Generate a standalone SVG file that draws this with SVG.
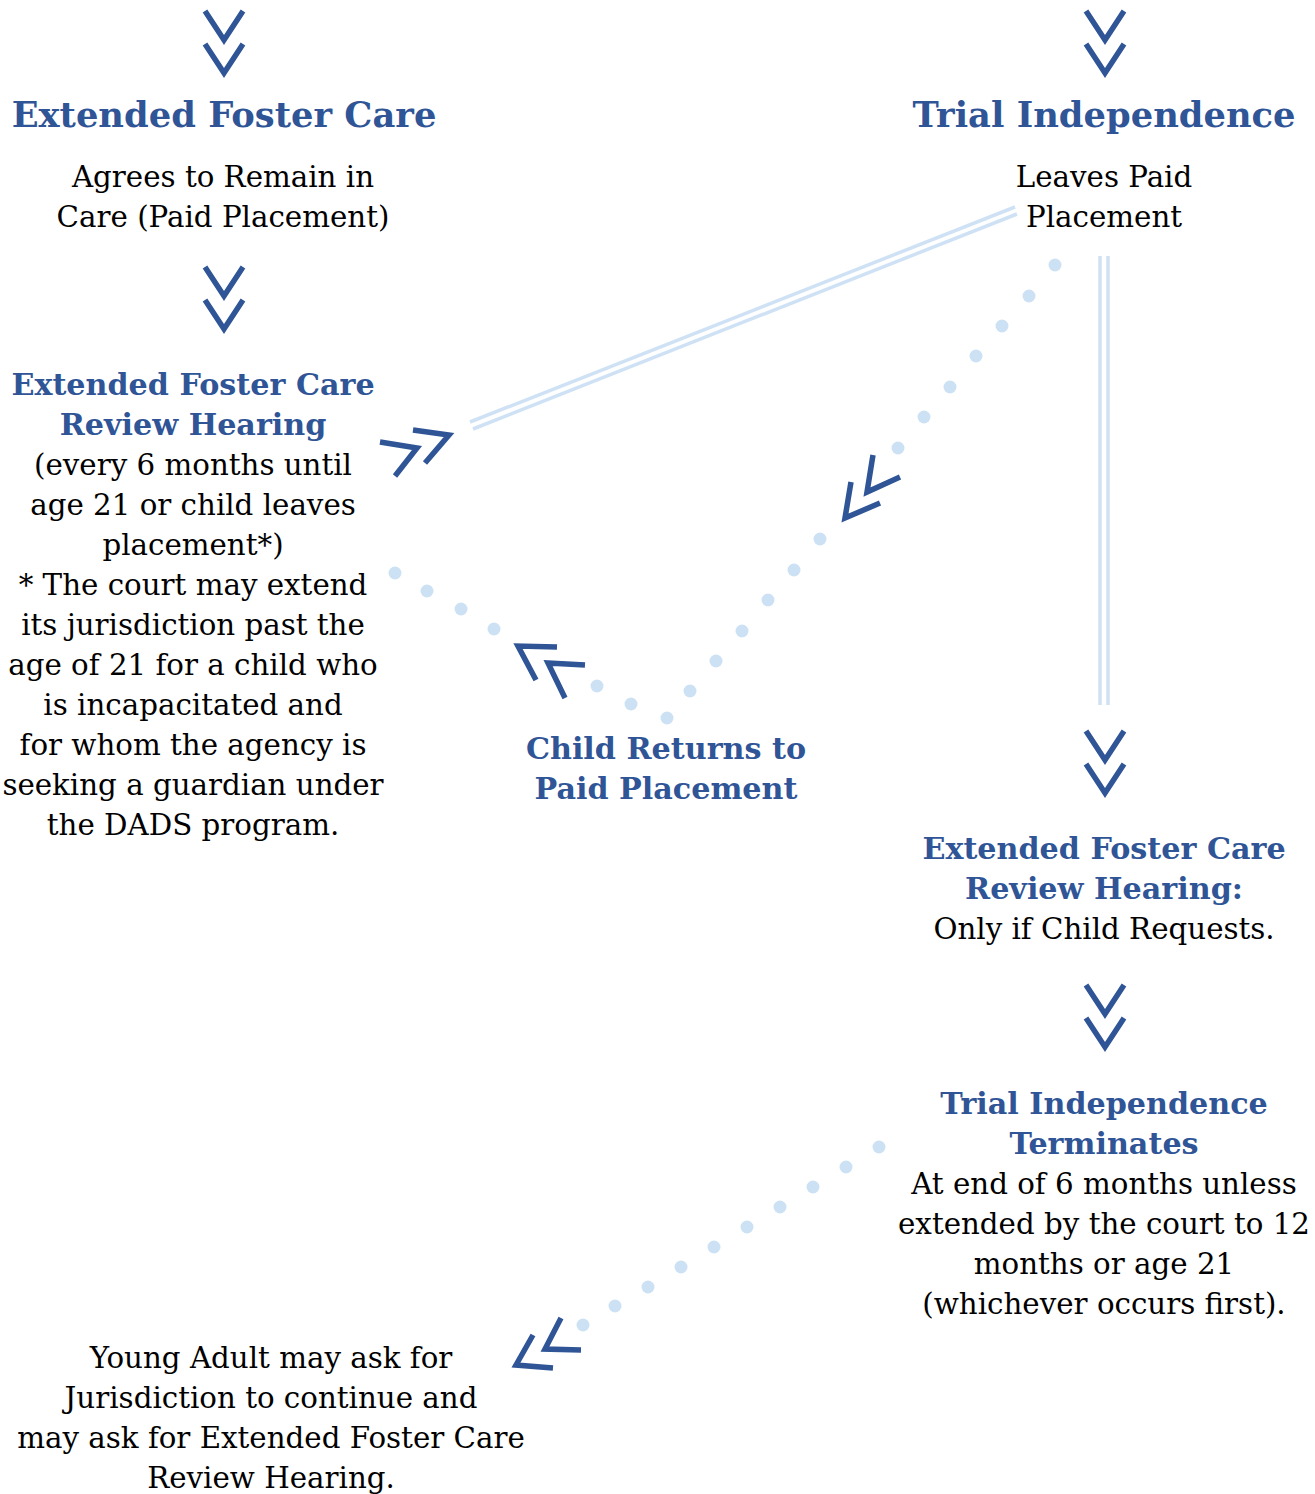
<svg xmlns="http://www.w3.org/2000/svg" width="1315" height="1494" viewBox="0 0 1315 1494">
<style>
text{font-family:"DejaVu Serif","Liberation Serif",serif;text-anchor:middle}
.h1{font-size:35.3px;font-weight:bold;fill:#2F5597}
.h2{font-size:30.2px;font-weight:bold;fill:#2F5597}
.b{font-size:29.3px;fill:#000}
.chev{fill:none;stroke:#2F5597;stroke-width:5.5;stroke-linejoin:miter}
.dl{stroke:#CFE2F5;stroke-width:3.5;fill:none}
.dot{fill:#CDE1F4}
</style>
<rect width="1315" height="1494" fill="#fff"/>
<g id="connectors">
<path class="dl" d="M1015,207 L470,422 M1017,214 L473,429"/>
<path class="dl" d="M1100,256 V705 M1108,256 V705"/>
<g class="dot">
<circle cx="1055" cy="265" r="6.5"/><circle cx="1029" cy="296" r="6.5"/><circle cx="1002" cy="326" r="6.5"/><circle cx="976" cy="356" r="6.5"/><circle cx="950" cy="387" r="6.5"/><circle cx="924" cy="417" r="6.5"/><circle cx="898" cy="448" r="6.5"/>
<circle cx="820" cy="539" r="6.5"/><circle cx="794" cy="570" r="6.5"/><circle cx="768" cy="600" r="6.5"/><circle cx="742" cy="631" r="6.5"/><circle cx="716" cy="661" r="6.5"/><circle cx="690" cy="691" r="6.5"/><circle cx="667" cy="718" r="6.5"/>
<circle cx="395" cy="573" r="6.5"/><circle cx="427" cy="591" r="6.5"/><circle cx="461" cy="609" r="6.5"/><circle cx="494" cy="629" r="6.5"/><circle cx="597" cy="686" r="6.5"/><circle cx="631" cy="704" r="6.5"/>
<circle cx="879" cy="1147" r="6.5"/><circle cx="846" cy="1167" r="6.5"/><circle cx="813" cy="1187" r="6.5"/><circle cx="780" cy="1207" r="6.5"/><circle cx="747" cy="1227" r="6.5"/><circle cx="714" cy="1247" r="6.5"/><circle cx="681" cy="1267" r="6.5"/><circle cx="648" cy="1287" r="6.5"/><circle cx="615" cy="1306" r="6.5"/><circle cx="583" cy="1325" r="6.5"/>
</g>
<g class="chev">
<path d="M205,11 L224,40 L243,11 M205,44 L224,73 L243,44"/>
<path d="M1086,11 L1105,40 L1124,11 M1086,44 L1105,73 L1124,44"/>
<path d="M205,267 L224,296 L243,267 M205,300 L224,329 L243,300"/>
<path d="M1086,731 L1105,760 L1124,731 M1086,764 L1105,793 L1124,764"/>
<path d="M1086,985 L1105,1014 L1124,985 M1086,1018 L1105,1047 L1124,1018"/>
<path d="M380,442 L417,448 L395,476 M413,430 L449,435 L425,463"/>
<path d="M557,647 L518,646 L536,680 M585,665 L548,663 L565,698"/>
<path d="M873,455 L867,492 L900,477 M851,482 L845,518 L880,503"/>
<path d="M561,1318 L545,1349 L581,1350 M533,1335 L516,1365 L553,1368"/>
</g>
</g>
<g id="n1"><text class="h1" x="224" y="127">Extended Foster Care</text>
<text class="b" x="223" y="187">Agrees to Remain in</text><text class="b" x="223" y="227">Care (Paid Placement)</text></g>
<g id="n2"><text class="h1" x="1104" y="127">Trial Independence</text>
<text class="b" x="1104" y="187">Leaves Paid</text><text class="b" x="1104" y="227">Placement</text></g>
<g id="n3"><text class="h2" x="193" y="395">Extended Foster Care</text><text class="h2" x="193" y="435">Review Hearing</text>
<text class="b" x="193" y="475">(every 6 months until</text><text class="b" x="193" y="515">age 21 or child leaves</text><text class="b" x="193" y="555">placement*)</text><text class="b" x="193" y="595">* The court may extend</text><text class="b" x="193" y="635">its jurisdiction past the</text><text class="b" x="193" y="675">age of 21 for a child who</text><text class="b" x="193" y="715">is incapacitated and</text><text class="b" x="193" y="755">for whom the agency is</text><text class="b" x="193" y="795">seeking a guardian under</text><text class="b" x="193" y="835">the DADS program.</text></g>
<g id="n4"><text class="h2" x="666" y="759">Child Returns to</text><text class="h2" x="666" y="799">Paid Placement</text></g>
<g id="n5"><text class="h2" x="1104" y="859">Extended Foster Care</text><text class="h2" x="1104" y="899">Review Hearing:</text><text class="b" x="1104" y="939">Only if Child Requests.</text></g>
<g id="n6"><text class="h2" x="1104" y="1114">Trial Independence</text><text class="h2" x="1104" y="1154">Terminates</text>
<text class="b" x="1104" y="1194">At end of 6 months unless</text><text class="b" x="1104" y="1234">extended by the court to 12</text><text class="b" x="1104" y="1274">months or age 21</text><text class="b" x="1104" y="1314">(whichever occurs first).</text></g>
<g id="n7"><text class="b" x="271" y="1368">Young Adult may ask for</text><text class="b" x="271" y="1408">Jurisdiction to continue and</text><text class="b" x="271" y="1448">may ask for Extended Foster Care</text><text class="b" x="271" y="1488">Review Hearing.</text></g>
</svg>
